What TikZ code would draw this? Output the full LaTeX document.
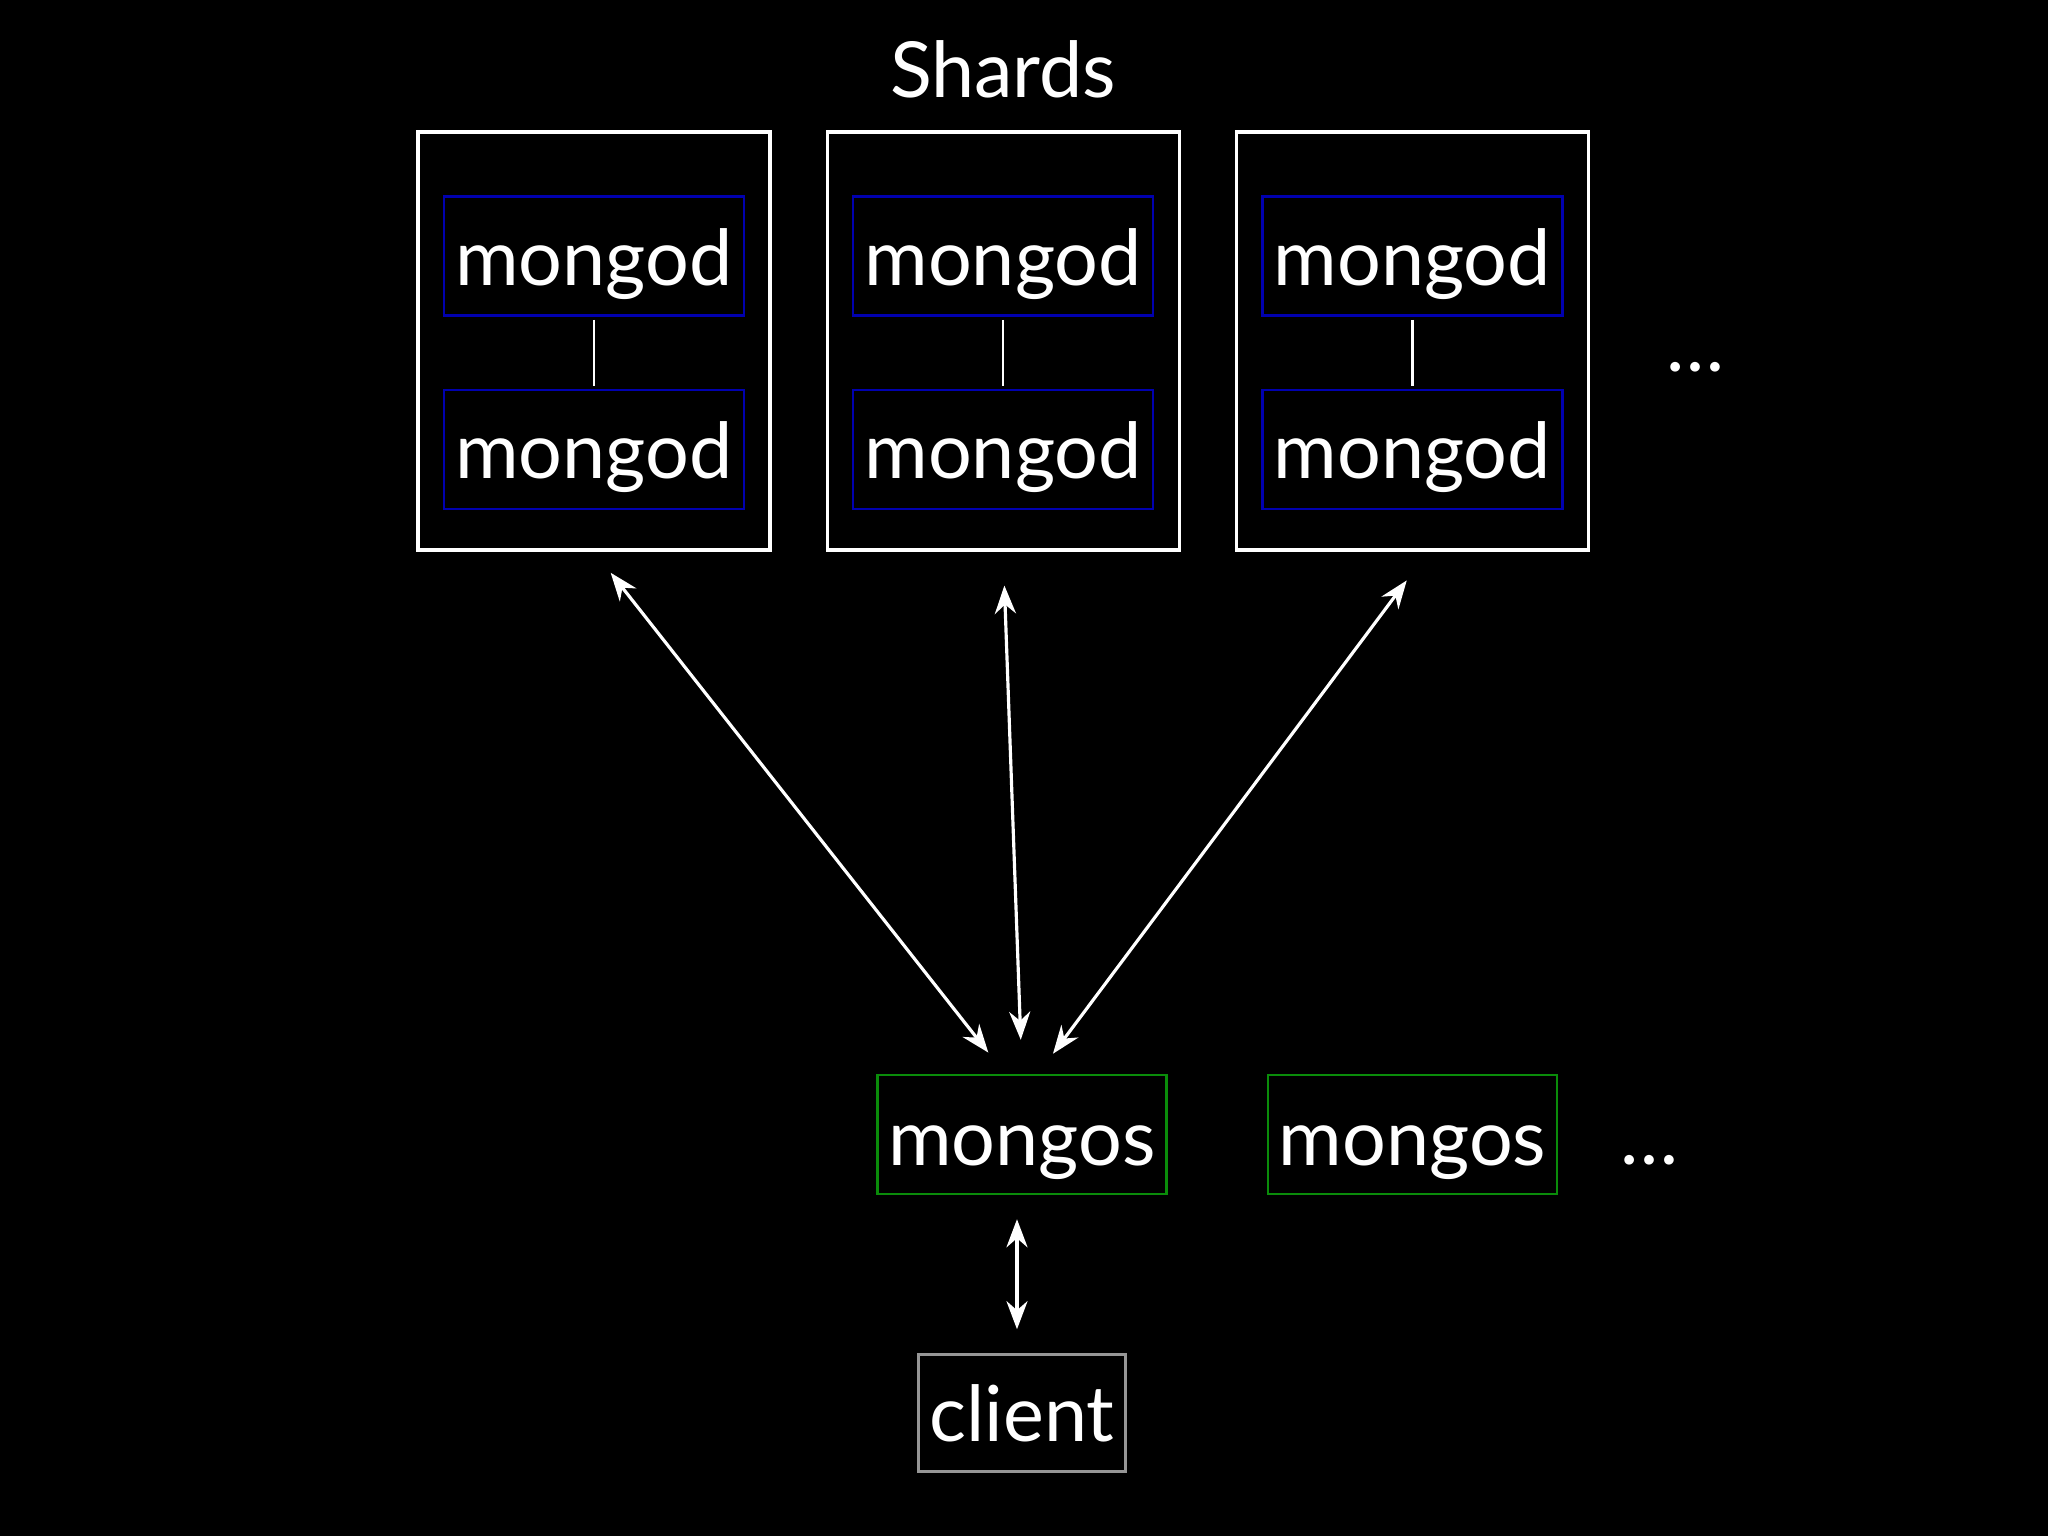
\documentclass[tikz,border=0pt]{standalone}
\usepackage{fontspec}
\setmainfont{Lato}
\usepackage{tikz}
\usetikzlibrary{arrows.meta,
                calc,
                positioning}
\definecolor{mongodblue}{RGB}{0,0,175}
\definecolor{mongosgreen}{RGB}{10,140,10}
\definecolor{clientgray}{RGB}{150,150,150}
\tikzset{
	%Define standard arrow tip
	>={Stealth[length=8pt,width=6pt]},
	%Define style for boxes
	shardbox/.style={
	       rectangle,
	       draw=white, line width=0.9pt,
	       minimum width=3.52cm,
	       minimum height=4.18cm,
	       inner sep=0pt},
	mongodbox/.style={
	       rectangle,
	       draw=mongodblue, line width=0.7pt,
	       minimum width=3cm,
	       minimum height=1.19cm,
	       inner sep=0pt,
	       text height=21pt,
	       text depth=4.5pt,
	       text=white,
	       font=\fontsize{22}{26}\selectfont},
	mongosbox/.style={
	       mongodbox,
	       draw=mongosgreen,
	       text height=22pt,
	       minimum width=2.89cm},
	clientbox/.style={
	       mongodbox,
	       draw=clientgray,
	       text height=16pt,
	       text depth=0pt,
	       minimum width=2.07cm,
	       minimum height=1.17cm},
	plain/.style={
	       text=white,
	       inner sep=0pt,
	       font=\fontsize{22}{26}\selectfont},
	% Define arrow style
	pil/.style={
	       <->,
	       draw=white,
	       line width=0.9pt},
	tie/.style={
	       draw=white,
	       line width=0.7pt,
	       shorten <=0.03cm,
	       shorten >=0.03cm}
}

\begin{document}
\begin{tikzpicture}
		\useasboundingbox (0,0) rectangle (20.48,-15.36);
		\fill[black] (0,0) rectangle (20.48,-15.36);
		% shards
		\node[shardbox] at (5.94,-3.41) (shardA){};
		\node[shardbox, right=0.54cm of shardA](shardB){};
		\node[shardbox, right=0.54cm of shardB](shardC){};
		\node[plain, above=0.32cm of shardB](title){Shards};
		\node[mongodbox, below=0.65cm of shardA.north](mongodA1){mongod};
		\node[mongodbox, below=0.72cm of mongodA1](mongodA2){mongod};
		\node[mongodbox, below=0.65cm of shardB.north](mongodB1){mongod};
		\node[mongodbox, below=0.72cm of mongodB1](mongodB2){mongod};
		\node[mongodbox, below=0.65cm of shardC.north](mongodC1){mongod};
		\node[mongodbox, below=0.72cm of mongodC1](mongodC2){mongod};
		\draw[tie] (mongodA1.south) -- (mongodA2.north);
		\draw[tie] (mongodB1.south) -- (mongodB2.north);
		\draw[tie] (mongodC1.south) -- (mongodC2.north);
		\node[plain, anchor=base] at (16.95,-3.72) (moreshards){\ldots};
		% routers and client
		\node[mongosbox] at (10.22,-11.345) (mongosA){mongos};
		\node[mongosbox, right=0.99cm of mongosA](mongosB){mongos};
		\node[plain, anchor=base] at (16.49,-11.64) (morerouters){\ldots};
		\node[clientbox, below=1.58cm of mongosA](client){client};
		\draw[pil, shorten <=0.27cm, shorten >=0.27cm] (shardA.south) -- ([xshift=-0.17cm]mongosA.north);
		\draw[pil, shorten <=0.34cm, shorten >=0.34cm] (shardB.south) -- (mongosA.north);
		\draw[pil, shorten <=0.36cm, shorten >=0.25cm] ([xshift=0.16cm]shardC.south) -- ([xshift=0.16cm]mongosA.north);
		\draw[pil, shorten <=0.24cm, shorten >=0.24cm] ([xshift=-0.05cm]mongosA.south) -- ([xshift=-0.05cm]client.north);
	\end{tikzpicture}
\end{document}
